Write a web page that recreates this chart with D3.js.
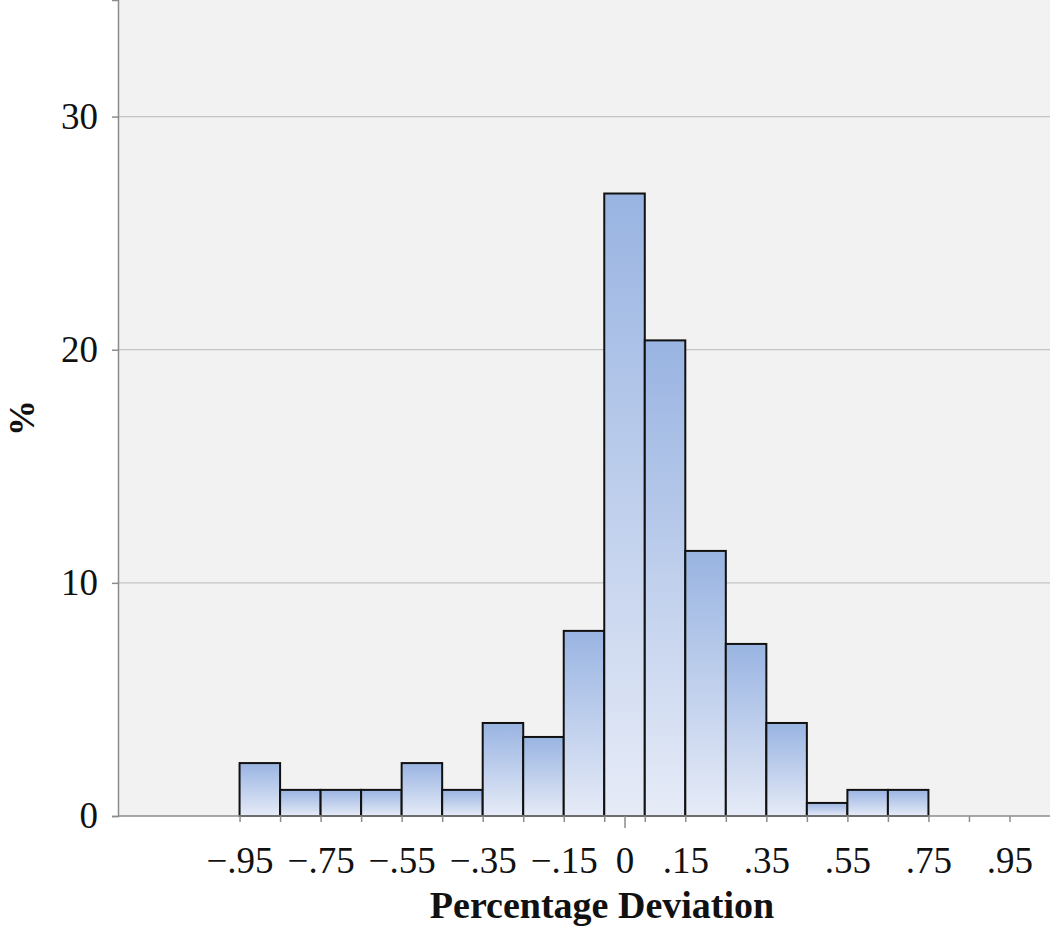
<!DOCTYPE html>
<html>
<head>
<meta charset="utf-8">
<script src="https://cdn.jsdelivr.net/npm/d3@7"></script>
<style>
  body { margin: 0; background: #fff; }
  svg text { font-family: "Liberation Serif", "Times New Roman", serif; }
</style>
</head>
<body>
<svg id="chart" width="1050" height="937"></svg>
<script>
// bin centres (width 0.1) and their percentages
const binCenters = [-0.9, -0.8, -0.7, -0.6, -0.5, -0.4, -0.3, -0.2, -0.1, 0, 0.1, 0.2, 0.3, 0.4, 0.5, 0.6, 0.7];
const percents = [2.27, 1.12, 1.12, 1.12, 2.27, 1.12, 3.99, 3.39, 7.94, 26.7, 20.4, 11.37, 7.38, 3.99, 0.56, 1.12, 1.12];
const binWidth = 0.1;

const xLabelTicks = [-0.95, -0.75, -0.55, -0.35, -0.15, 0, 0.15, 0.35, 0.55, 0.75, 0.95];
const xEdgeTicks = d3.range(-0.95, 0.96, 0.1).map(d => +d.toFixed(2));
const yTicks = [0, 10, 20, 30];

const margin = { top: 0, right: 0, bottom: 121, left: 118 };
const width = 1050 - margin.left - margin.right;
const height = 937 - margin.top - margin.bottom;

const svg = d3.select("#chart");

const defs = svg.append("defs");
const grad = defs.append("linearGradient")
  .attr("id", "barFill")
  .attr("x1", 0).attr("y1", 0).attr("x2", 0).attr("y2", 1);
grad.append("stop").attr("offset", "0%").attr("stop-color", "#99b4e2");
grad.append("stop").attr("offset", "100%").attr("stop-color", "#e6ebf7");

const xScale = d3.scaleLinear().domain([-1.25, 1.05]).range([0, width]);
const yScale = d3.scaleLinear().domain([0, 35]).range([height, 0]);

const g = svg.append("g").attr("transform", `translate(${margin.left} ${margin.top})`);

// plot background
g.append("rect")
  .attr("x", 0).attr("y", 0)
  .attr("width", width).attr("height", height)
  .attr("fill", "#f2f2f2");

// grid lines
g.append("g")
  .selectAll("line")
  .data(yTicks.filter(d => d > 0))
  .enter()
  .append("line")
  .attr("x1", 0).attr("x2", width)
  .attr("y1", d => yScale(d)).attr("y2", d => yScale(d))
  .attr("stroke", "#c4c4c4")
  .attr("stroke-width", 1.2);

// bars
g.append("g")
  .selectAll("rect")
  .data(binCenters.map((c, i) => ({ c, v: percents[i] })))
  .enter()
  .append("rect")
  .attr("x", d => xScale(d.c - binWidth / 2))
  .attr("y", d => yScale(d.v))
  .attr("width", d => xScale(d.c + binWidth / 2) - xScale(d.c - binWidth / 2))
  .attr("height", d => yScale(0) - yScale(d.v))
  .attr("fill", "url(#barFill)")
  .attr("stroke", "#111")
  .attr("stroke-width", 2);

// x axis: minor ticks at bin edges
const xMinor = d3.axisBottom(xScale).tickValues(xEdgeTicks).tickSize(6).tickFormat("");
const gxMinor = g.append("g").attr("transform", `translate(0 ${height})`).call(xMinor);
gxMinor.select(".domain").remove();
gxMinor.selectAll("line").attr("stroke", "#8c8c8c").attr("stroke-width", 1.5);

// tick at zero is longer
const xZero = d3.axisBottom(xScale).tickValues([0]).tickSize(12).tickFormat("");
const gxZero = g.append("g").attr("transform", `translate(0 ${height})`).call(xZero);
gxZero.select(".domain").remove();
gxZero.selectAll("line").attr("stroke", "#8c8c8c").attr("stroke-width", 1.5);

// x labels
const fmt = d => d === 0 ? "0" : (d < 0 ? "\u2212" : "") + String(Math.abs(d).toFixed(2)).replace(/^0/, "");
const xLab = d3.axisBottom(xScale).tickValues(xLabelTicks).tickSize(0).tickPadding(31).tickFormat(fmt);
const gxLab = g.append("g").attr("transform", `translate(0 ${height})`).call(xLab);
gxLab.select(".domain").remove();
gxLab.selectAll("text")
  .attr("font-size", 37)
  .attr("fill", "#111")
  .style("font-family", "'Liberation Serif', serif");

// x baseline
g.append("line")
  .attr("x1", 0).attr("x2", width)
  .attr("y1", height).attr("y2", height)
  .attr("stroke", "#8c8c8c").attr("stroke-width", 1.5);

// y axis
const yAxis = d3.axisLeft(yScale).tickValues(yTicks).tickSize(6).tickPadding(14).tickFormat(d3.format("d"));
const gy = g.append("g").call(yAxis);
gy.select(".domain").attr("stroke", "#8c8c8c").attr("stroke-width", 1.5);
gy.selectAll("line").attr("stroke", "#8c8c8c").attr("stroke-width", 1.5);
gy.selectAll("text")
  .attr("font-size", 37)
  .attr("fill", "#111")
  .style("font-family", "'Liberation Serif', serif");

// axis titles
svg.append("text")
  .attr("x", 602)
  .attr("y", 918)
  .attr("text-anchor", "middle")
  .attr("font-size", 38)
  .attr("font-weight", "bold")
  .attr("fill", "#111")
  .text("Percentage Deviation");

svg.append("text")
  .attr("transform", "translate(34 418) rotate(-90)")
  .attr("text-anchor", "middle")
  .attr("font-size", 36)
  .attr("font-weight", "bold")
  .attr("fill", "#111")
  .text("%");
</script>
</body>
</html>
